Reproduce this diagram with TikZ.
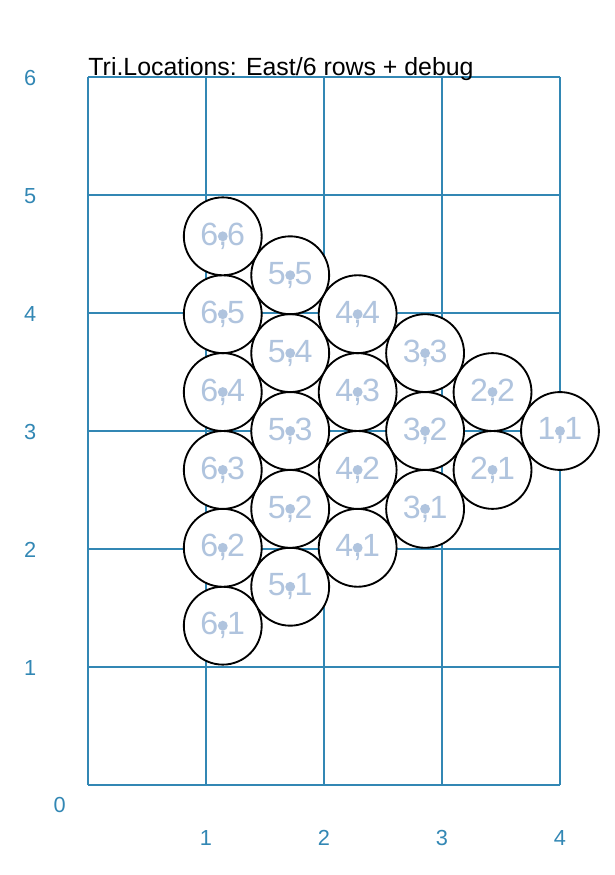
\documentclass[tikz,border=0pt]{standalone}
\usepackage{fontspec}
\setmainfont{Liberation Sans}
\usetikzlibrary{positioning}

\definecolor{gridblue}{RGB}{50,135,180}
\definecolor{labelblue}{RGB}{176,196,222}

\begin{document}
\begin{tikzpicture}[
    x=2cm, y=2cm,
    grid/.style={draw=gridblue, line width=0.9pt},
    axislabel/.style={text=gridblue, font=\fontsize{10.5}{12}\selectfont},
    loc/.style={circle, draw=black, fill=white, line width=0.9pt, minimum size=1.32cm, inner sep=0pt,
                text=labelblue, font=\fontsize{15.5}{18}\selectfont},
    locdot/.style={fill=labelblue}
]
    \useasboundingbox (-0.746,-0.763) rectangle (4.466,6.653);

    % Grid
    \foreach \x in {0,...,4} {
        \draw[grid] (\x,0) -- (\x,6);
    }
    \foreach \y in {0,...,6} {
        \draw[grid] (0,\y) -- (4,\y);
    }

    % Axis labels
    \foreach \y in {1,...,6} {
        \node[axislabel] (ylab\y) at (-0.49,\y-0.01) {\y};
    }
    \foreach \x in {1,...,4} {
        \node[axislabel] (xlab\x) at (\x,-0.45) {\x};
    }
    \node[axislabel] (xylab0) at (-0.24,-0.17) {0};

    % Title
    \node[anchor=base west, inner sep=0pt, font=\fontsize{12}{14}\selectfont] (title) at (0,6.01) {Tri.Locations: East/6 rows + debug};

    % Locations
    \foreach \c in {1,...,6} {
        \foreach \r in {1,...,\c} {
            \node[loc] (loc\c\r) at ({4-(\c-1)*0.5716}, {3+(\r-(\c+1)/2)*0.66}) {\c,\r};
            \fill[locdot] (loc\c\r.center) circle (0.042);
        }
    }

\end{tikzpicture}
\end{document}
